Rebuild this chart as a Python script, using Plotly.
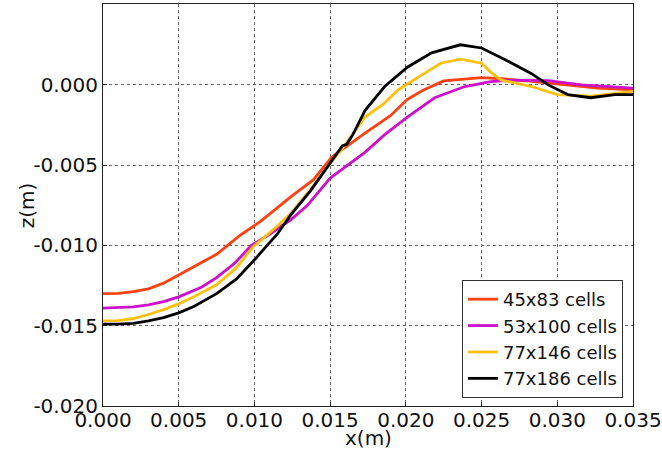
import plotly.graph_objects as go

# ---- data ----
x_45x83 = [0, 0.001, 0.002, 0.003, 0.004, 0.005, 0.006, 0.0075, 0.009, 0.0104, 0.0125,
           0.0139, 0.0151, 0.0173, 0.019, 0.0201, 0.0212, 0.0225, 0.025, 0.0261, 0.0283,
           0.0305, 0.0327, 0.035]
z_45x83 = [-0.0130, -0.01298, -0.01288, -0.0127, -0.01235, -0.01185, -0.0113, -0.01055,
           -0.0094, -0.0085, -0.0069, -0.0059, -0.0045, -0.0030, -0.0019, -0.0009, -0.0003,
           0.00025, 0.00045, 0.0004, 0.00022, 0.0, -0.0002, -0.0003]

x_53x100 = [0, 0.001, 0.002, 0.003, 0.004, 0.005, 0.0065, 0.0075, 0.0087, 0.0098, 0.011,
            0.0124, 0.0135, 0.015, 0.0173, 0.0186, 0.0201, 0.0219, 0.0239, 0.0256, 0.0272,
            0.0294, 0.0316, 0.035]
z_53x100 = [-0.0139, -0.01388, -0.01382, -0.0137, -0.0135, -0.0132, -0.0126, -0.0120,
            -0.0111, -0.0100, -0.0093, -0.0084, -0.0075, -0.0058, -0.0042, -0.0031, -0.0020,
            -0.0008, -0.0001, 0.0002, 0.0003, 0.00027, 0.0, -0.0002]

x_77x146 = [0, 0.001, 0.002, 0.003, 0.004, 0.005, 0.006, 0.0075, 0.0088, 0.0099, 0.0115,
            0.0124, 0.0137, 0.0149, 0.0157, 0.0163, 0.0173, 0.0185, 0.0195, 0.0212, 0.0223,
            0.0236, 0.0250, 0.0256, 0.0263, 0.0283, 0.0300, 0.0322, 0.035]
z_77x146 = [-0.0147, -0.01468, -0.01455, -0.0143, -0.0140, -0.01364, -0.0132, -0.01245,
            -0.0114, -0.0101, -0.0088, -0.0080, -0.0065, -0.0050, -0.0041, -0.0033, -0.0020,
            -0.0012, -0.0003, 0.0007, 0.00135, 0.0016, 0.00135, 0.0008, 0.0003, -0.0001,
            -0.0006, -0.0007, -0.0004]

x_77x186 = [0, 0.001, 0.002, 0.003, 0.004, 0.005, 0.006, 0.0075, 0.0088, 0.0099, 0.0115,
            0.0124, 0.0137, 0.0149, 0.0155, 0.0158, 0.0161, 0.0165, 0.0173, 0.0186, 0.0201,
            0.0217, 0.0236, 0.025, 0.0265, 0.0283, 0.0294, 0.0307, 0.0322, 0.0338, 0.035]
z_77x186 = [-0.0149, -0.0149, -0.01485, -0.0147, -0.0145, -0.0142, -0.0138, -0.0130,
            -0.0121, -0.0110, -0.0093, -0.0081, -0.0066, -0.0050, -0.0042, -0.0038, -0.0037,
            -0.0031, -0.0016, -0.0001, 0.0011, 0.0020, 0.0025, 0.0023, 0.0016, 0.0007, 0.0,
            -0.0006, -0.0008, -0.0006, -0.0006]

series_names = ["45x83 cells", "53x100 cells", "77x146 cells", "77x186 cells"]
series_colors = ["#FF4010", "#CC10CC", "#FFC010", "#000000"]

x_tickvals = [0.000, 0.005, 0.010, 0.015, 0.020, 0.025, 0.030, 0.035]
x_ticktext = ["0.000", "0.005", "0.010", "0.015", "0.020", "0.025", "0.030", "0.035"]
y_tickvals = [-0.020, -0.015, -0.010, -0.005, 0.000]
y_ticktext = ["-0.020", "-0.015", "-0.010", "-0.005", "0.000"]

FONT = "DejaVu Sans"
FS = 20

fig = go.Figure()
for xs, zs, name, col in zip([x_45x83, x_53x100, x_77x146, x_77x186],
                             [z_45x83, z_53x100, z_77x146, z_77x186],
                             series_names, series_colors):
    fig.add_trace(go.Scatter(x=xs, y=zs, mode="lines", name=name,
                             line=dict(color=col, width=2.8)))

axis_common = dict(showline=True, linecolor="#222222", linewidth=1.2, mirror=True,
                   showgrid=True, gridcolor="#666666", gridwidth=1, griddash="dot",
                   zeroline=False, ticks="inside", ticklen=4, tickcolor="#222222",
                   automargin=False,
                   tickfont=dict(family=FONT, size=FS, color="#111111"))

fig.update_xaxes(range=[0, 0.035], tickvals=x_tickvals, ticktext=x_ticktext,
                 ticklabelstandoff=-4, **axis_common)
fig.update_yaxes(range=[-0.020, 0.00504], tickvals=y_tickvals, ticktext=y_ticktext,
                 **axis_common)

fig.update_layout(
    width=662, height=450,
    margin=dict(l=103, r=29, t=4, b=44),
    paper_bgcolor="white", plot_bgcolor="white",
    font=dict(family=FONT, size=FS, color="#111111"),
    legend=dict(x=0.981, xanchor="right", y=0.02, yanchor="bottom",
                bgcolor="white", bordercolor="#333333", borderwidth=1,
                font=dict(family=FONT, size=18), tracegroupgap=0, itemwidth=30),
    annotations=[
        dict(text="x(m)", xref="paper", yref="paper", x=0.5, y=-0.08,
             xanchor="center", yanchor="middle", showarrow=False,
             font=dict(family=FONT, size=FS)),
        dict(text="z(m)", xref="paper", yref="paper", x=-0.143, y=0.5,
             xanchor="center", yanchor="middle", showarrow=False, textangle=-90,
             font=dict(family=FONT, size=FS)),
    ],
)

fig.write_html("out.html")
